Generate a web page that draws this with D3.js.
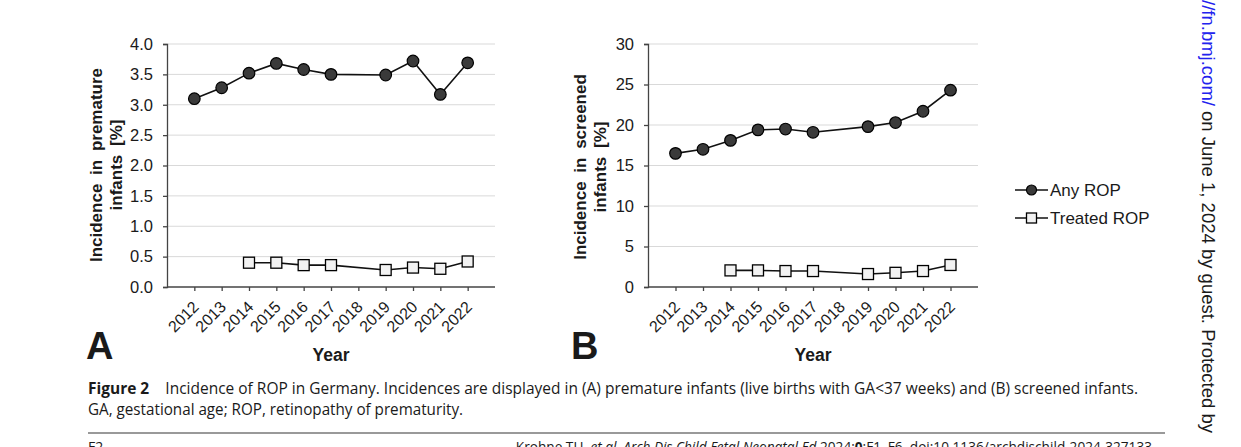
<!DOCTYPE html>
<html>
<head>
<meta charset="utf-8">
<script src="https://cdn.jsdelivr.net/npm/d3@7"></script>
<style>
  html, body { margin: 0; padding: 0; background: #fff; }
  svg { display: block; }
  text { font-family: "Liberation Sans", Arial, sans-serif; fill: #1a1a1a; }
</style>
</head>
<body>
<svg id="fig" width="1241" height="447"></svg>
<script>
// --- Data ---
const years = ['2012', '2013', '2014', '2015', '2016', '2017', '2018', '2019', '2020', '2021', '2022'];

// panel A: incidence in premature infants [%]
const anyPremature = [3.10, 3.28, 3.52, 3.68, 3.58, 3.50, null, 3.49, 3.72, 3.17, 3.69];
const treatedPremature = [null, null, 0.40, 0.40, 0.36, 0.36, null, 0.28, 0.32, 0.30, 0.42];
const ticksA = [0, 0.5, 1.0, 1.5, 2.0, 2.5, 3.0, 3.5, 4.0];

// panel B: incidence in screened infants [%]
const anyScreened = [16.5, 17.0, 18.1, 19.4, 19.5, 19.1, null, 19.8, 20.3, 21.7, 24.3];
const treatedScreened = [null, null, 2.05, 2.05, 1.97, 1.97, null, 1.60, 1.75, 1.97, 2.72];
const ticksB = [0, 5, 10, 15, 20, 25, 30];

const svg = d3.select('#fig');
svg.append('rect').attr('width', 1241).attr('height', 447).attr('fill', '#fff');

const sans = '"Liberation Sans", Arial, sans-serif';
const capFont = '"Open Sans", "Liberation Sans", sans-serif';

function drawPanel(opts) {
    const x = d3.scalePoint().domain(years).range([opts.left, opts.right]).padding(1);
    const y = d3.scaleLinear().domain([0, opts.max]).range([opts.bottom, opts.top]);
    const g = svg.append('g');

    // gridlines
    g.append('g').selectAll('line')
        .data(opts.ticks.filter(t => t > 0))
        .enter().append('line')
        .attr('x1', opts.left).attr('x2', opts.right)
        .attr('y1', d => y(d)).attr('y2', d => y(d))
        .attr('stroke', '#d9d9d9').attr('stroke-width', 1);

    // y axis
    const yAxis = g.append('g')
        .attr('transform', `translate(${opts.left},0)`)
        .call(d3.axisLeft(y).tickValues(opts.ticks).tickFormat(opts.fmt).tickSize(4).tickPadding(10));
    yAxis.select('.domain').attr('stroke', '#444').attr('stroke-width', 1.3);
    yAxis.selectAll('.tick line').attr('stroke', '#444').attr('stroke-width', 1.3);
    yAxis.selectAll('text').attr('font-size', 16.5).attr('fill', '#1a1a1a')
        .style('font-family', sans);

    // x axis
    const xAxis = g.append('g')
        .attr('transform', `translate(0,${opts.bottom})`)
        .call(d3.axisBottom(x).tickSize(4).tickSizeOuter(0));
    xAxis.select('.domain').attr('stroke', '#444').attr('stroke-width', 1.3)
        .attr('d', `M${opts.left},0H${opts.right}`);
    xAxis.selectAll('.tick line').attr('stroke', '#444').attr('stroke-width', 1.3);
    xAxis.selectAll('text')
        .attr('font-size', 16).attr('fill', '#1a1a1a')
        .style('font-family', sans)
        .attr('text-anchor', 'end')
        .attr('dy', '0.35em')
        .attr('transform', 'translate(1,17) rotate(-45)')
        .attr('x', 0).attr('y', 0);

    const line = d3.line()
        .defined(d => d.v != null)
        .x(d => x(d.year)).y(d => y(d.v));

    function series(vals, shape) {
        const pts = years.map((yr, i) => ({ year: yr, v: vals[i] })).filter(d => d.v != null);
        g.append('path').datum(pts)
            .attr('d', line).attr('fill', 'none')
            .attr('stroke', '#111').attr('stroke-width', 1.6);
        if (shape === 'circle') {
            g.append('g').selectAll('circle').data(pts).enter().append('circle')
                .attr('cx', d => x(d.year)).attr('cy', d => y(d.v)).attr('r', 5.8)
                .attr('fill', '#3a3a3a').attr('stroke', '#000').attr('stroke-width', 1.2);
        } else {
            g.append('g').selectAll('rect').data(pts).enter().append('rect')
                .attr('x', d => x(d.year) - 5.5).attr('y', d => y(d.v) - 5.5)
                .attr('width', 11).attr('height', 11)
                .attr('fill', '#f2f2f2').attr('stroke', '#000').attr('stroke-width', 1.3);
        }
    }
    series(opts.any, 'circle');
    series(opts.treated, 'square');

    // y title (two lines, rotated)
    const yt = g.append('text')
        .attr('transform', `translate(${opts.titleX},${opts.titleY}) rotate(-90)`)
        .attr('text-anchor', 'middle')
        .attr('font-size', 17).attr('font-weight', 'bold');
    yt.append('tspan').attr('x', 0).attr('y', 0)
        .attr('word-spacing', 4).text(opts.title1);
    yt.append('tspan').attr('x', 0).attr('y', 20)
        .attr('word-spacing', 4).text(opts.title2);

    // x title
    g.append('text').attr('x', opts.yearX).attr('y', 361)
        .attr('text-anchor', 'middle').attr('font-size', 17.5).attr('font-weight', 'bold')
        .text('Year');

    // panel letter
    g.append('text').attr('x', opts.letterX).attr('y', 359)
        .attr('font-size', 38).attr('font-weight', 'bold').attr('fill', '#000')
        .text(opts.letter);
}

drawPanel({
    left: 167, right: 495, top: 44, bottom: 287, max: 4,
    ticks: ticksA, fmt: d3.format('.1f'),
    any: anyPremature, treated: treatedPremature,
    title1: 'Incidence in premature', title2: 'infants [%]',
    titleX: 102, titleY: 165, yearX: 331, letter: 'A', letterX: 86
});

drawPanel({
    left: 648, right: 978, top: 44, bottom: 287, max: 30,
    ticks: ticksB, fmt: d3.format('d'),
    any: anyScreened, treated: treatedScreened,
    title1: 'Incidence in screened', title2: 'infants [%]',
    titleX: 586, titleY: 167, yearX: 813, letter: 'B', letterX: 571
});

// legend
const legendItems = [
    { label: 'Any ROP', shape: 'circle' },
    { label: 'Treated ROP', shape: 'square' }
];
const lg = svg.append('g').attr('transform', 'translate(1015,190)');
legendItems.forEach((it, i) => {
    const row = lg.append('g').attr('transform', `translate(0,${i * 28})`);
    row.append('line').attr('x1', 0).attr('x2', 33).attr('y1', 0).attr('y2', 0)
        .attr('stroke', '#111').attr('stroke-width', 1.6);
    if (it.shape === 'circle') {
        row.append('circle').attr('cx', 16.5).attr('cy', 0).attr('r', 5)
            .attr('fill', '#3a3a3a').attr('stroke', '#000').attr('stroke-width', 1.2);
    } else {
        row.append('rect').attr('x', 11.5).attr('y', -5).attr('width', 10).attr('height', 10)
            .attr('fill', '#f2f2f2').attr('stroke', '#000').attr('stroke-width', 1.3);
    }
    row.append('text').attr('x', 35).attr('y', 0).attr('dy', '0.35em')
        .attr('font-size', 17).text(it.label);
});

// caption
const cap = svg.append('text').attr('x', 88).attr('y', 394)
    .style('font-family', capFont).attr('font-size', 16.5)
    .attr('textLength', 1050).attr('lengthAdjust', 'spacingAndGlyphs')
    .style('white-space', 'pre');
cap.append('tspan').attr('font-weight', 'bold').text('Figure 2');
cap.append('tspan').text('    Incidence of ROP in Germany. Incidences are displayed in (A) premature infants (live births with GA<37 weeks) and (B) screened infants.');
svg.append('text').attr('x', 88).attr('y', 415)
    .style('font-family', capFont).attr('font-size', 16.5)
    .attr('textLength', 375).attr('lengthAdjust', 'spacingAndGlyphs')
    .text('GA, gestational age; ROP, retinopathy of prematurity.');

// rule + footer (runs off the bottom edge, as on the page)
svg.append('line').attr('x1', 88).attr('x2', 1165).attr('y1', 433).attr('y2', 433)
    .attr('stroke', '#777').attr('stroke-width', 1.5);
svg.append('text').attr('x', 88).attr('y', 452)
    .style('font-family', capFont).attr('font-size', 14).text('F2');
const foot = svg.append('text').attr('x', 1152).attr('y', 452)
    .attr('text-anchor', 'end')
    .style('font-family', capFont).attr('font-size', 14);
foot.append('tspan').text('Krohne TU, ');
foot.append('tspan').attr('font-style', 'italic').text('et al. Arch Dis Child Fetal Neonatal Ed');
foot.append('tspan').text(' 2024;');
foot.append('tspan').attr('font-weight', 'bold').text('0');
foot.append('tspan').text(':F1–F6. doi:10.1136/archdischild-2024-327133');
// shrink to the printed width
const footLen = foot.node().getComputedTextLength();
if (footLen > 0) foot.attr('font-size', 14 * 637 / footLen);

// side margin text (rotated)
const side = svg.append('text')
    .attr('transform', 'translate(1202,433) rotate(90)')
    .attr('text-anchor', 'end').attr('font-size', 18.5);
side.append('tspan').style('fill', '#2222ee').text('http://fn.bmj.com/');
side.append('tspan').text(' on June 1, 2024 by guest. Protected by');
</script>
</body>
</html>
